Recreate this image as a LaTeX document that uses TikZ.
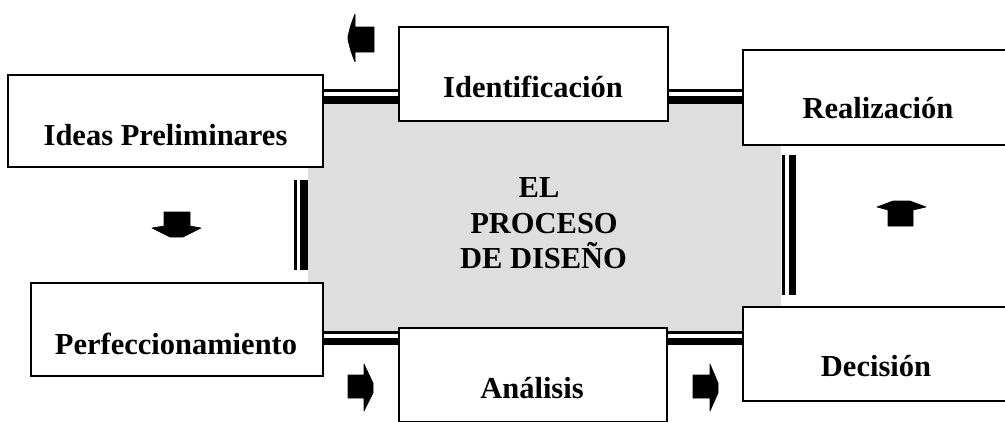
\documentclass[tikz,border=0pt]{standalone}
\usepackage{fontspec}
\setmainfont{Liberation Serif}
\definecolor{stip}{RGB}{222,222,222}
\begin{document}
\begin{tikzpicture}[x=1pt,y=-1pt,
  box/.style={draw=black, line width=1.7pt, fill=white, rectangle, inner sep=0pt},
  lbl/.style={anchor=base, font=\bfseries\fontsize{30.5}{36}\selectfont, inner sep=0pt},
  thinbar/.style={line width=3pt},
  thickbar/.style={line width=7.5pt},
  blockarrow/.style={fill=black, draw=black, line width=0.6pt, line join=round}
]
\useasboundingbox (0,0) rectangle (1005,421);
\clip (0,0) rectangle (1005,421);
\fill[white] (0,0) rectangle (1005,421);
% shaded centre
\fill[stip] (308,104) rectangle (781,331);

% boxes
\node[box, minimum width=315pt, minimum height=92pt] (ideas) at (165.5,121) {};
\node[box, minimum width=269pt, minimum height=94pt] (ident) at (533.5,74) {};
\node[box, minimum width=267pt, minimum height=95pt] (real)  at (876.5,97.5) {};
\node[box, minimum width=292pt, minimum height=93pt] (perf)  at (177,329.5) {};
\node[box, minimum width=268pt, minimum height=94pt] (anal)  at (533,375) {};
\node[box, minimum width=267pt, minimum height=94pt] (dec)   at (876.5,354) {};

% labels
\node[lbl] (ideasT) at (165.5,145) {Ideas Preliminares};
\node[lbl] (identT) at (533,97) {Identificación};
\node[lbl] (realT)  at (878,118.5) {Realización};
\node[lbl] (perfT)  at (176,354) {Perfeccionamiento};
\node[lbl] (analT)  at (532,398) {Análisis};
\node[lbl] (decT)   at (876,376) {Decisión};

% centre text
\node[lbl] (c1) at (539,197) {EL};
\node[lbl] (c2) at (544,233) {PROCESO};
\node[lbl] (c3) at (543.5,268) {DE DISEÑO};

% horizontal double connectors
\draw[thinbar]  (ideas.east |- 0,90)  -- (ident.west |- 0,90);
\draw[thickbar] (ideas.east |- 0,100) -- (ident.west |- 0,100);
\draw[thinbar]  (ident.east |- 0,90)  -- (real.west |- 0,90);
\draw[thickbar] (ident.east |- 0,100) -- (real.west |- 0,100);
\draw[thinbar]  (perf.east |- 0,332.5) -- (anal.west |- 0,332.5);
\draw[thickbar] (perf.east |- 0,341.5) -- (anal.west |- 0,341.5);
\draw[thinbar]  (anal.east |- 0,332.5) -- (dec.west |- 0,332.5);
\draw[thickbar] (anal.east |- 0,341.5) -- (dec.west |- 0,341.5);

% vertical double bars
\coordinate (lt1) at (295,180); \coordinate (lb1) at (295,270);
\coordinate (lt2) at (304,180); \coordinate (lb2) at (304,270);
\draw[thinbar]  (lt1) -- (lb1);
\draw[thickbar] (lt2) -- (lb2);
\coordinate (rt1) at (783,155); \coordinate (rb1) at (783,295);
\coordinate (rt2) at (792.5,155); \coordinate (rb2) at (792.5,295);
\draw[thinbar]  (rt1) -- (rb1);
\draw[thickbar] (rt2) -- (rb2);

% block arrows
% left-pointing (top)
\filldraw[blockarrow] (374,27) -- (355,27) -- (355,14) .. controls (351,24) .. (348,36) -- (348,40) .. controls (351,52) .. (355,62) -- (355,52) -- (374,52) -- cycle;
% down
\filldraw[blockarrow] (164,212) -- (190,212) -- (190,226) -- (201,228) -- (183,237) -- (170,237) -- (152,228) -- (164,226) -- cycle;
% up
\filldraw[blockarrow] (888,226) -- (913,226) -- (913,210) -- (926,207) -- (910,201) -- (893,201) -- (877,207) -- (888,210) -- cycle;
% right (bottom left)
\filldraw[blockarrow] (348,375) -- (364,375) -- (364,364) -- (373,383) -- (373,393) -- (364,411) -- (364,398) -- (348,398) -- cycle;
% right (bottom right)
\filldraw[blockarrow] (693,375) -- (710,375) -- (710,364) -- (718,383) -- (718,393) -- (710,411) -- (710,398) -- (693,398) -- cycle;
\end{tikzpicture}
\end{document}
